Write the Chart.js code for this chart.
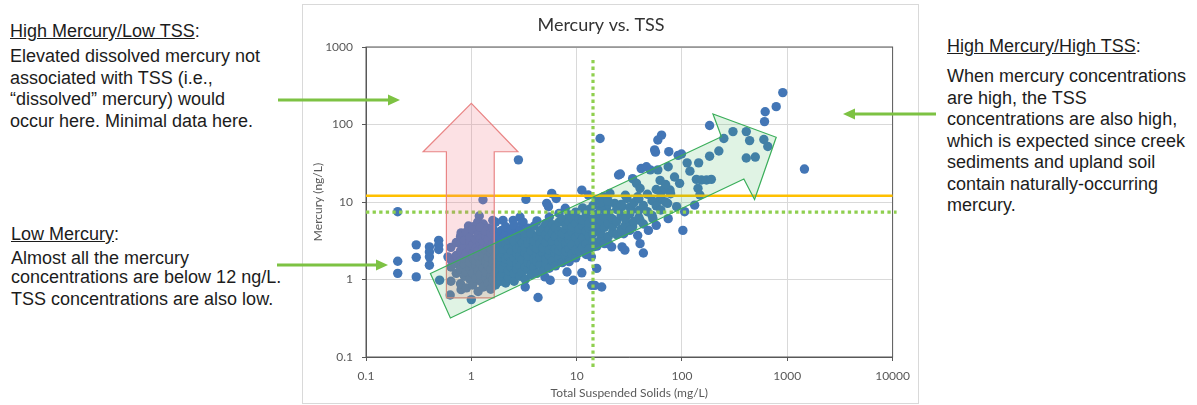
<!DOCTYPE html>
<html>
<head>
<meta charset="utf-8">
<script src="https://cdn.jsdelivr.net/npm/chart.js@4.4.1/dist/chart.umd.min.js"></script>
<style>
body{margin:0;width:1197px;height:405px;background:#fff;position:relative;overflow:hidden;font-family:"Liberation Sans",Arial,sans-serif;color:#1c1c1c}
.note{position:absolute;font-size:18px;line-height:21.5px;white-space:nowrap}
#box{position:absolute;left:302px;top:4px;width:615px;height:398px;border:1px solid #d9d9d9;background:#fff}
#arrows{position:absolute;left:0;top:0;pointer-events:none}
</style>
</head>
<body>

<div class="note" style="left:10px;top:21px"><u>High Mercury/Low TSS</u>:</div>
<div class="note" style="left:10px;top:46px">Elevated dissolved mercury not<br>associated with TSS (i.e.,<br>“dissolved” mercury) would<br>occur here. Minimal data here.</div>

<div class="note" style="left:11px;top:224px"><u>Low Mercury</u>:</div>
<div class="note" style="left:11px;top:249px;line-height:19px">Almost all the mercury<br>concentrations are below 12 ng/L.</div>
<div class="note" style="left:11px;top:289px">TSS concentrations are also low.</div>

<div class="note" style="left:947px;top:36px"><u>High Mercury/High TSS</u>:</div>
<div class="note" style="left:947px;top:66px">When mercury concentrations<br>are high, the TSS<br>concentrations are also high,<br>which is expected since creek<br>sediments and upland soil<br>contain naturally-occurring<br>mercury.</div>

<div id="box"><canvas id="chart1" width="615" height="398"></canvas></div>

<svg id="arrows" width="1197" height="405">
  <g stroke="#7dc243" stroke-width="3.2" fill="#7dc243">
    <line x1="278" y1="100" x2="390" y2="100"/>
    <polygon points="388,94.5 400,100 388,105.5" stroke="none"/>
    <line x1="277" y1="265" x2="378" y2="265"/>
    <polygon points="376,259.5 388,265 376,270.5" stroke="none"/>
    <line x1="853" y1="114" x2="936" y2="114"/>
    <polygon points="855,108.5 843,114 855,119.5" stroke="none"/>
  </g>
</svg>

<script>
// single samples (TSS mg/L, mercury ng/L)
var tss = [
  0.2, 0.2, 0.2, 0.3, 0.3, 0.3, 0.4, 0.4, 0.4, 0.4, 0.49, 0.49, 0.49, 0.5, 0.6, 0.63, 0.8, 1.0, 1.29, 1.19, 0.94, 0.8,
  2.8, 5.8, 6.4, 3.3, 11.2, 12.9, 5.2, 5.4, 7.8, 2.0, 1.7, 1.95, 2.5, 2.9, 3.1,
  4.3, 3.25, 8.1, 9.3, 11.2, 13.9, 5.0, 5.6, 15.5, 17.3, 14.9, 13.8, 14.4,
  16.7, 64, 59, 55, 56, 75, 92, 99, 112, 119, 26, 25, 41, 46, 50, 59, 74, 34, 37, 40, 38, 62, 66, 77, 85, 95, 62, 73,
  20.7, 23, 27, 30, 33, 15.5, 18, 19.3, 20.7, 89, 106, 74, 53, 57, 48, 40, 34, 30, 28, 38, 40, 43, 102, 18, 20, 21.5, 27, 28.7,
  906, 785, 617, 608, 183, 305, 408, 439, 599, 653, 408, 497, 250, 224, 183, 144, 1455, 137, 153, 171, 190, 142, 148, 132,
  1.15, 1.05, 1.3, 1.45, 1.6
];
var mercury = [
  7.5, 1.72, 1.2, 2.8, 1.93, 1.08, 2.64, 2.27, 1.96, 1.53, 3.2, 2.77, 2.44, 0.98, 1.96, 0.63, 0.74, 0.55, 10.7, 6.6, 4.9, 4.0,
  35, 12.9, 11.1, 10.8, 14.2, 12.3, 9.6, 8.7, 8.3, 5.8, 5.5, 4.3, 5.8, 6.4, 5.5,
  0.585, 0.8, 1.25, 0.98, 1.22, 0.84, 1.08, 0.98, 1.39, 0.8, 0.84, 1.96, 2.64,
  66, 73, 63, 47, 44, 44.6, 40, 41.6, 32, 25, 23, 22.3, 27, 28.5, 26, 26, 28.5, 20, 17.4, 15, 11.7, 19, 14.3, 14.3, 21, 17.4, 10.6, 9.6,
  12.9, 9.6, 8.7, 11.1, 7.9, 10.6, 11.7, 8.7, 6.4, 8.7, 7.5, 6.1, 6.1, 5.0, 4.3, 5.8, 4.8, 5.3, 3.9, 3.7, 2.9, 2.2, 4.3, 3.55, 2.9, 2.64, 2.64, 2.39,
  258, 170, 146, 109, 97, 81, 81, 62, 64, 52, 37, 38, 66, 45.5, 39, 32, 26.6, 19.6, 19.2, 19.2, 19.6, 15, 12.3, 9.1,
  5.5, 4.8, 5.2, 4.6, 5.8
];

// the dense band of samples, read column by column
var bandTss = [0.64, 0.72, 0.79, 0.86, 0.9, 0.97, 1.03, 1.1, 1.16, 1.22, 1.3, 1.37, 1.45, 1.53, 1.6, 1.7, 1.8, 1.9, 2.0, 2.12,
  2.25, 2.4, 2.55, 2.7, 2.9, 3.05, 3.25, 3.45, 3.7, 3.95, 4.2, 4.5, 4.8, 5.1, 5.5, 5.9, 6.3, 6.8, 7.3, 7.9,
  8.5, 9.1, 9.8, 10.6, 11.4, 12.3, 13.2, 14.3, 15.6, 16.9, 18.4, 20, 22, 24, 26.5, 29, 32, 35, 39, 43,
  47, 52, 57, 63, 70, 78];
var bandMercury = [
  [0.95, 1.45, 1.8, 2.6], [1.2, 1.6, 2.05, 3.0], [0.88, 1.35, 1.75, 2.35, 2.9, 3.6], [1.1, 1.55, 1.9, 2.7, 3.2],
  [0.78, 1.25, 2.2, 4.1], [1.0, 1.4, 1.65, 2.45, 3.0, 3.5], [0.85, 1.2, 1.9, 2.2, 2.8, 4.4], [1.05, 1.5, 1.75, 2.55, 3.3],
  [0.7, 1.3, 2.0, 2.35, 3.8], [0.95, 1.15, 1.6, 2.9, 3.4, 4.7], [0.8, 1.4, 1.85, 2.15, 2.6, 3.1], [1.05, 1.25, 1.7, 2.4, 3.6, 4.2],
  [0.9, 1.5, 1.95, 2.75, 3.25], [0.75, 1.1, 1.35, 2.2, 2.5, 3.9], [1.0, 1.6, 1.8, 2.9, 4.5], [0.85, 1.2, 1.45, 2.05, 2.6, 3.3],
  [1.3, 1.7, 2.3, 3.0, 3.7], [0.95, 1.1, 1.55, 1.95, 2.7, 4.2], [1.2, 1.4, 2.15, 2.45, 3.4], [0.9, 1.65, 1.85, 2.9, 3.9, 4.8],
  [1.05, 1.3, 2.0, 2.6, 3.2], [1.45, 1.7, 2.3, 3.5, 4.4], [0.95, 1.2, 1.9, 2.8, 3.1, 5.0], [1.35, 1.6, 2.15, 2.5, 3.8],
  [1.1, 1.5, 2.0, 2.7, 3.3, 4.3], [1.25, 1.8, 2.4, 3.0, 5.3], [1.0, 1.45, 2.2, 2.6, 3.6, 4.0], [1.35, 1.65, 2.0, 2.9, 4.6],
  [1.15, 1.55, 2.35, 3.3, 3.9], [1.45, 1.85, 2.7, 3.1, 4.9], [1.2, 1.7, 2.1, 2.5, 3.6, 5.7], [1.55, 1.95, 2.9, 4.2],
  [1.3, 2.2, 2.55, 3.3, 4.6], [1.6, 1.85, 3.0, 3.8, 5.3], [1.4, 2.05, 2.4, 3.5, 4.4, 6.4], [1.75, 2.7, 3.1, 4.0, 5.1],
  [1.5, 2.2, 2.5, 3.6, 4.7], [1.9, 2.35, 3.0, 4.2, 5.5, 7.1], [1.65, 2.6, 3.4, 3.9, 6.0], [2.0, 2.3, 2.9, 4.5, 5.0],
  [1.7, 2.5, 3.3, 3.7, 5.6, 6.8], [2.15, 2.8, 4.1, 4.8, 6.2], [1.9, 2.4, 3.5, 5.3, 7.4], [2.3, 3.0, 3.9, 4.5, 6.0],
  [2.6, 3.4, 5.0, 5.8, 8.4], [2.1, 2.9, 4.2, 6.6, 7.3], [2.5, 3.6, 4.6, 5.4, 8.0], [3.1, 3.9, 6.1, 9.0],
  [2.7, 4.4, 5.1, 7.0], [3.3, 4.0, 5.7, 8.1, 9.8], [2.9, 4.7, 6.4], [3.6, 5.3, 7.3, 10.2],
  [4.1, 4.9, 6.0], [3.8, 5.6, 8.0], [4.5, 6.7, 9.3], [5.0, 6.1, 12.2], [4.3, 7.0, 8.6], [5.6, 9.8], [6.3, 7.8, 11.0], [5.2, 9.0],
  [7.5, 12.6], [6.7, 10.4], [8.9, 14.5], [7.9, 11.8], [10.0, 16.8], [12.8]
];

var xTicks = [0.1, 1, 10, 100, 1000, 10000];
var yTicks = [0.1, 1, 10, 100, 1000];
var mercuryLimit = 12;
var guideMercury = 7.4;
var guideTss = 14.3;

// annotation arrows, corners in data units (TSS, mercury)
var pinkArrow = [[0.58, 0.578], [0.58, 44.5], [0.349, 44.5], [1, 188], [2.77, 44.5], [1.65, 44.5], [1.65, 0.578]];
var greenArrow = [[0.409, 1.195], [237, 69.6], [197, 136.7], [785, 68.4], [489, 10.8], [387, 19.8], [0.633, 0.319]];

var puntos = [];
for (var i = 0; i < tss.length; i++) {
  puntos.push({x: tss[i], y: mercury[i]});
}
for (var c = 0; c < bandTss.length; c++) {
  for (var k = 0; k < bandMercury[c].length; k++) {
    puntos.push({x: bandTss[c], y: bandMercury[c][k]});
  }
}

var guias = {
  id: 'guias',
  afterDatasetsDraw: function(chart) {
    var ctx = chart.ctx, a = chart.chartArea;
    var sx = chart.scales.x, sy = chart.scales.y;

    // plot area frame
    ctx.save();
    ctx.strokeStyle = '#595959';
    ctx.lineWidth = 1;
    ctx.strokeRect(a.left, a.top, a.right - a.left, a.bottom - a.top);

    // 12 ng/L line
    var yl = sy.getPixelForValue(mercuryLimit);
    ctx.strokeStyle = '#ffc000';
    ctx.lineWidth = 2.5;
    ctx.beginPath(); ctx.moveTo(a.left, yl); ctx.lineTo(a.right, yl); ctx.stroke();

    // dotted quadrant lines
    ctx.strokeStyle = '#8fcf4f';
    ctx.lineWidth = 3.2;
    ctx.setLineDash([3.3, 3.3]);
    var yg = sy.getPixelForValue(guideMercury);
    ctx.beginPath(); ctx.moveTo(a.left, yg); ctx.lineTo(a.right + 4, yg); ctx.stroke();
    var xg = sx.getPixelForValue(guideTss);
    ctx.beginPath(); ctx.moveTo(xg, a.top + 13); ctx.lineTo(xg, a.bottom + 10); ctx.stroke();
    ctx.setLineDash([]);

    function forma(pts, fill, stroke) {
      ctx.beginPath();
      for (var j = 0; j < pts.length; j++) {
        var px = sx.getPixelForValue(pts[j][0]), py = sy.getPixelForValue(pts[j][1]);
        if (j == 0) ctx.moveTo(px, py); else ctx.lineTo(px, py);
      }
      ctx.closePath();
      ctx.fillStyle = fill; ctx.fill();
      ctx.strokeStyle = stroke; ctx.lineWidth = 1.2; ctx.stroke();
    }
    forma(pinkArrow, 'rgba(240,120,130,0.22)', '#e98585');
    forma(greenArrow, 'rgba(60,180,90,0.16)', '#3aae5a');
    ctx.restore();
  }
};

var ejeFuente = {family: 'Lato, "Open Sans", sans-serif', size: 12};

new Chart(document.getElementById('chart1').getContext('2d'), {
  type: 'scatter',
  data: {
    datasets: [{
      data: puntos,
      backgroundColor: '#4376b6',
      borderWidth: 0,
      pointRadius: 4.7
    }]
  },
  options: {
    responsive: false,
    animation: false,
    events: [],
    layout: {padding: {left: 5, right: 24, top: 0, bottom: 0}},
    plugins: {
      legend: {display: false},
      tooltip: {enabled: false},
      title: {
        display: true,
        text: 'Mercury vs. TSS',
        color: '#333333',
        font: {family: 'Lato, "Open Sans", sans-serif', size: 18, weight: 'normal'},
        padding: {top: 9.2, bottom: 11.2}
      }
    },
    scales: {
      x: {
        type: 'logarithmic',
        min: 0.1, max: 10000,
        afterBuildTicks: function(s) { s.ticks = xTicks.map(function(v){ return {value: v}; }); },
        afterFit: function(s) { s.height = 46; },
        ticks: {color: '#595959', font: ejeFuente, padding: 8, maxRotation: 0,
          callback: function(v) { return String(v); }},
        grid: {color: '#d9d9d9', tickColor: '#595959', tickLength: 4},
        border: {color: '#595959'},
        title: {display: true, text: 'Total Suspended Solids (mg/L)', color: '#595959', font: ejeFuente, padding: {top: 0, bottom: 3}}
      },
      y: {
        type: 'logarithmic',
        min: 0.1, max: 1000,
        afterBuildTicks: function(s) { s.ticks = yTicks.map(function(v){ return {value: v}; }); },
        afterFit: function(s) { s.width = 58; },
        ticks: {color: '#595959', font: ejeFuente, padding: 9,
          callback: function(v) { return String(v); }},
        grid: {color: '#d9d9d9', tickColor: '#595959', tickLength: 4},
        border: {color: '#595959'},
        title: {display: true, text: 'Mercury (ng/L)', color: '#595959', font: ejeFuente, padding: {top: 3, bottom: 0}}
      }
    }
  },
  plugins: [guias]
});
</script>
</body>
</html>
